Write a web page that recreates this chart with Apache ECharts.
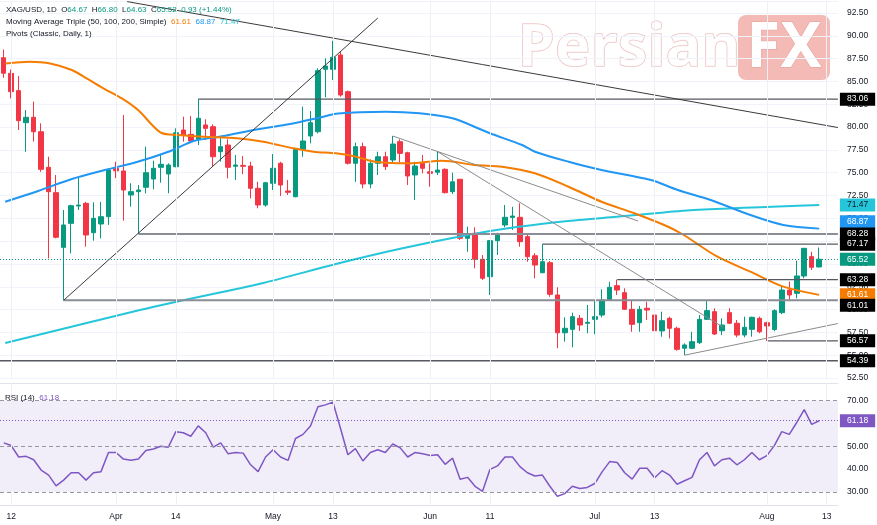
<!DOCTYPE html>
<html>
<head>
<meta charset="utf-8">
<title>XAG/USD 1D</title>
<script src="https://cdn.jsdelivr.net/npm/echarts@6/dist/echarts.min.js"></script>
<style>
  html, body { margin: 0; padding: 0; background: #fff; }
  #chart-container { width: 877px; height: 525px; }
</style>
</head>
<body>
<div id="chart-container"></div>
<script>
// trading days shown on the chart (Good Friday closed)
var dates = [
  '2026-03-11','2026-03-12','2026-03-13','2026-03-16','2026-03-17','2026-03-18','2026-03-19','2026-03-20','2026-03-23','2026-03-24','2026-03-25','2026-03-26','2026-03-27','2026-03-30','2026-03-31',
  '2026-04-01','2026-04-02','2026-04-06','2026-04-07','2026-04-08','2026-04-09','2026-04-10','2026-04-13','2026-04-14','2026-04-15','2026-04-16','2026-04-17','2026-04-20','2026-04-21','2026-04-22','2026-04-23','2026-04-24','2026-04-27','2026-04-28','2026-04-29','2026-04-30',
  '2026-05-01','2026-05-04','2026-05-05','2026-05-06','2026-05-07','2026-05-08','2026-05-11','2026-05-12','2026-05-13','2026-05-14','2026-05-15','2026-05-18','2026-05-19','2026-05-20','2026-05-21','2026-05-22','2026-05-25','2026-05-26','2026-05-27','2026-05-28','2026-05-29',
  '2026-06-01','2026-06-02','2026-06-03','2026-06-04','2026-06-05','2026-06-08','2026-06-09','2026-06-10','2026-06-11','2026-06-12','2026-06-15','2026-06-16','2026-06-17','2026-06-18','2026-06-19','2026-06-22','2026-06-23','2026-06-24','2026-06-25','2026-06-26','2026-06-29','2026-06-30',
  '2026-07-01','2026-07-02','2026-07-03','2026-07-06','2026-07-07','2026-07-08','2026-07-09','2026-07-10','2026-07-13','2026-07-14','2026-07-15','2026-07-16','2026-07-17','2026-07-20','2026-07-21','2026-07-22','2026-07-23','2026-07-24','2026-07-27','2026-07-28','2026-07-29','2026-07-30','2026-07-31',
  '2026-08-03','2026-08-04','2026-08-05','2026-08-06','2026-08-07','2026-08-10','2026-08-11','2026-08-12','2026-08-13','2026-08-14'
];

var tickDates = ['2026-03-12','2026-04-01','2026-04-14','2026-05-01','2026-05-13','2026-06-01','2026-06-11','2026-07-01','2026-07-13','2026-08-03','2026-08-13'];
var tickLabels = ['12','Apr','14','May','13','Jun','11','Jul','13','Aug','13'];

// [open, high, low, close]
var candles = [
  [87.60,88.50,85.40,85.90],[85.89,86.30,83.15,83.88],[83.99,85.60,79.68,80.70],[80.48,81.87,77.30,81.07],[81.07,82.78,78.40,79.49],
  [79.49,80.41,75.10,75.37],[75.59,76.75,65.62,72.92],[72.81,74.75,67.81,67.92],[66.82,70.91,61.01,69.27],[69.45,71.50,66.17,71.38],
  [71.35,74.56,70.91,71.45],[71.64,71.80,66.89,68.17],[68.42,71.75,67.55,70.00],[69.38,71.80,67.80,70.18],[70.18,75.48,69.27,75.29],
  [75.50,76.20,74.40,75.20],[75.19,81.32,69.74,73.10],[72.56,73.84,71.27,72.92],[72.92,73.65,68.28,73.10],[73.40,77.85,72.74,75.00],
  [74.31,76.31,73.18,75.48],[75.59,77.05,73.90,75.92],[74.86,76.03,72.74,75.84],[75.65,79.86,75.60,79.38],[79.68,81.14,78.40,79.13],
  [79.20,81.21,78.22,78.47],[78.66,83.06,78.03,80.96],[80.23,80.85,78.58,79.86],[80.04,80.30,75.66,76.75],[77.30,78.95,76.20,77.85],
  [78.03,78.66,74.38,75.59],[75.70,76.94,74.20,75.84],[75.80,76.83,74.86,75.70],[75.73,76.20,72.19,73.29],[73.29,74.00,71.10,71.46],
  [71.46,74.00,71.27,73.90],[73.84,77.05,73.10,75.48],[76.03,76.20,72.45,73.65],[73.00,74.20,72.56,72.85],[72.37,77.67,72.30,77.56],
  [77.56,82.23,76.75,78.47],[79.02,81.76,78.22,80.48],[79.49,86.44,79.30,86.18],[86.33,87.54,83.26,86.69],[86.33,89.46,85.16,87.65],
  [87.90,88.26,83.33,83.51],[83.88,84.00,75.90,76.03],[76.03,78.29,74.00,77.85],[77.85,78.29,73.29,73.76],[73.76,76.46,73.29,76.03],
  [76.03,77.30,74.75,76.75],[76.75,77.30,75.30,75.66],[76.39,79.02,76.10,78.14],[78.40,78.66,76.10,77.12],[77.19,77.30,73.65,74.64],
  [74.75,76.20,72.01,75.73],[76.03,76.94,74.93,75.48],[75.10,76.03,73.46,74.93],[75.05,77.30,74.75,75.29],[75.37,75.48,72.74,72.81],
  [72.92,75.00,72.66,74.00],[74.28,74.30,67.63,67.81],[67.81,69.08,66.34,68.25],[68.36,69.02,64.52,65.51],[65.51,65.98,63.24,63.43],
  [63.60,67.60,61.60,67.55],[67.55,68.42,65.98,68.17],[69.27,71.46,69.02,70.11],[70.10,71.27,68.72,70.25],[70.11,71.64,66.89,67.44],
  [67.99,68.36,65.24,65.79],[65.90,66.17,63.43,64.88],[64.04,67.17,63.98,65.24],[65.13,65.32,61.40,61.67],[61.60,62.44,55.76,57.46],
  [57.46,59.15,56.48,57.95],[57.83,59.66,55.86,59.22],[59.04,59.40,57.66,58.31],[58.50,60.50,57.40,58.60],[58.93,61.05,57.30,59.22],
  [59.40,62.22,59.15,61.05],[61.05,63.05,61.00,62.44],[62.62,63.28,61.60,62.14],[61.85,62.33,59.95,60.03],[60.03,61.05,57.57,58.38],
  [58.56,60.39,57.57,60.03],[60.14,60.86,58.86,59.95],[59.40,59.59,57.40,57.68],[57.66,59.77,57.03,58.78],[59.04,59.22,56.85,57.95],
  [57.95,58.12,55.49,55.64],[55.76,56.30,55.00,56.12],[55.76,57.57,55.65,56.48],[56.37,59.40,56.23,58.93],[58.93,61.05,58.86,59.88],
  [59.77,60.14,57.21,57.32],[57.68,59.04,57.21,58.31],[59.66,60.14,58.40,58.50],[58.50,58.86,56.96,57.21],[57.21,59.22,56.96,58.06],
  [57.83,59.22,57.03,59.15],[59.04,59.22,57.40,57.57],[58.56,58.67,56.57,58.20],[57.81,60.03,57.62,59.88],[59.66,62.69,59.50,62.14],
  [62.14,63.05,61.05,61.60],[61.78,65.36,61.23,63.68],[63.68,66.75,63.43,66.71],[65.80,66.34,64.34,64.63],[64.67,66.80,64.63,65.52]
];

// moving averages: [bar index, value]
var ma50 = [[0.2,86.97],[3.5,87.15],[6.2,86.97],[9.1,86.25],[11.2,85.27],[13.5,84.17],[15.9,83.08],[18.1,81.76],[19.7,80.34],[21.1,79.35],[23.2,79.13],[26.8,78.94],[31.2,78.77],[34.7,78.40],[38.7,77.67],[41.4,77.30],[44.4,77.12],[46.7,76.83],[49.7,76.20],[54.3,76.03],[58.6,76.31],[63.0,75.84],[66.6,75.66],[71.0,74.93],[75.5,73.46],[79.9,71.82],[84.3,70.55],[88.8,69.08],[90.9,68.17],[95.4,65.79],[99.8,64.15],[104.2,62.51],[109,61.61]];
var ma100 = [[0.2,71.82],[4.6,72.99],[9.1,74.31],[13.5,75.29],[17.9,76.20],[22.3,77.38],[25.4,78.47],[29.4,79.02],[33.8,79.73],[38.3,80.34],[42.3,81.05],[44.7,81.49],[51.1,81.68],[55.6,81.51],[60.0,80.96],[64.9,79.35],[69.3,78.03],[71.0,77.30],[75.5,76.20],[79.9,75.29],[86.5,74.20],[90.1,73.10],[94.5,72.01],[99.8,70.36],[104.2,69.27],[109,68.87]];
var ma200 = [[0.2,56.34],[18.2,59.95],[23.1,60.86],[34.7,62.92],[44.4,64.99],[53.3,66.71],[62.0,68.17],[68.3,69.02],[75.8,69.74],[84.6,70.36],[92.2,70.91],[109,71.47]];

var rsi = [
  51.5,50.3,45.3,45.6,44.1,39.6,37.4,32.7,35.2,38.4,38.4,35.2,38.4,38.9,47.3,47.3,44.4,43.9,44.4,48.1,
  48.8,50.0,49.6,56.4,55.9,54.4,58.9,55.9,49.6,51.5,46.7,47.3,47.0,41.9,38.9,45.3,48.5,45.3,43.8,53.4,
  55.2,58.9,67.3,68.1,69.3,58.0,46.3,49.0,43.6,47.3,48.5,47.3,51.0,49.3,45.3,47.3,46.7,46.0,46.3,42.1,
  44.8,35.6,36.4,32.5,30.3,39.9,41.4,45.3,45.3,41.1,38.4,37.0,37.4,32.5,28.1,29.3,32.5,31.5,32.0,33.7,
  38.9,43.3,42.9,38.4,35.6,40.4,40.4,36.2,39.3,37.4,33.4,34.9,36.4,44.1,47.3,41.4,44.1,44.8,41.9,44.1,
  47.3,44.1,45.9,50.3,56.4,55.2,60.4,66.0,59.6,61.18
];

// drawn horizontal levels: price and bar where the level starts
var levelPrices = [83.06, 68.28, 67.17, 63.28, 61.01, 56.57, 54.39];
var levelStarts = [26, 18, 72, 82, 8, 102, -0.5];

// drawn trend lines: [[bar, price], [bar, price]]
var trendLines = [
  [[16.5, 93.75], [111.5, 79.95]],
  [[8, 61.01], [50, 91.95]],
  [[52, 79.02], [84.8, 69.70]],
  [[58, 77.30], [96.1, 58.09]],
  [[91, 55.00], [111.5, 58.47]]
];

var FONT = '"Liberation Sans", Arial, sans-serif';
var UP = '#089981', DOWN = '#f23645';
var C50 = '#f57c00', C100 = '#2196f3', C200 = '#26c6da', CRSI = '#7e57c2';
var TXT = '#131722';

var last = candles[candles.length - 1];
var lastClose = last[3];
var lastRsi = rsi[rsi.length - 1];
var candleData = candles.map(function (c) { return [c[0], c[3], c[2], c[1]]; });
var tickMap = {};
tickDates.forEach(function (d, i) { tickMap[d] = tickLabels[i]; });

function tag(value, bg, fg, dy) {
  return {
    yAxis: value,
    lineStyle: { color: 'rgba(0,0,0,0)' },
    label: {
      show: true, position: 'end', distance: 2, formatter: value.toFixed(2),
      backgroundColor: bg, color: fg, padding: [2, 7, 2, 7], offset: [0, dy || 0],
      fontSize: 8.5, fontFamily: FONT
    }
  };
}

var vLines = tickDates.map(function (d) {
  return { xAxis: d, lineStyle: { color: '#eef0f5', width: 1, type: 'solid' }, label: { show: false } };
});

var dom = document.getElementById('chart-container');
var myChart = echarts.init(dom, null, { renderer: 'canvas' });

var series = [
  {
    name: 'XAG/USD', type: 'candlestick', xAxisIndex: 0, yAxisIndex: 0,
    data: candleData, barWidth: 5,
    itemStyle: { color: UP, color0: DOWN, borderColor: UP, borderColor0: DOWN, borderWidth: 1 },
    markLine: {
      silent: true, symbol: ['none', 'none'], animation: false,
      label: { show: false },
      data: vLines.concat([
        {
          yAxis: lastClose, lineStyle: { color: UP, type: [1, 2], width: 1 },
          label: { show: true, position: 'end', distance: 2, formatter: lastClose.toFixed(2), backgroundColor: UP, color: '#fff', padding: [2, 7, 2, 7], fontSize: 8.5, fontFamily: FONT }
        },
        tag(levelPrices[0], '#000', '#fff'),
        tag(ma200[ma200.length - 1][1], C200, TXT),
        tag(ma100[ma100.length - 1][1], C100, '#fff', -7),
        tag(levelPrices[1], '#000', '#fff'),
        tag(levelPrices[2], '#000', '#fff'),
        tag(levelPrices[3], '#000', '#fff'),
        tag(ma50[ma50.length - 1][1], C50, '#fff'),
        tag(levelPrices[4], '#000', '#fff', 5),
        tag(levelPrices[5], '#000', '#fff'),
        tag(levelPrices[6], '#000', '#fff')
      ])
    }
  },
  { name: 'MA 200', type: 'line', xAxisIndex: 1, yAxisIndex: 0, data: ma200, smooth: 0.3, symbol: 'none', lineStyle: { color: C200, width: 2 }, z: 3 },
  { name: 'MA 100', type: 'line', xAxisIndex: 1, yAxisIndex: 0, data: ma100, smooth: 0.3, symbol: 'none', lineStyle: { color: C100, width: 2 }, z: 3 },
  { name: 'MA 50', type: 'line', xAxisIndex: 1, yAxisIndex: 0, data: ma50, smooth: 0.3, symbol: 'none', lineStyle: { color: C50, width: 2 }, z: 3 }
];

levelPrices.forEach(function (p, k) {
  series.push({
    type: 'line', xAxisIndex: 1, yAxisIndex: 0, silent: true,
    data: [[levelStarts[k], p], [111.5, p]], symbol: 'none',
    lineStyle: { color: (k === 1 || k === 4) ? '#8a8d96' : '#55585f', width: (k === 1 || k === 4) ? 2 : 1.4 }, z: 4
  });
});

trendLines.forEach(function (seg, k) {
  series.push({
    type: 'line', xAxisIndex: 1, yAxisIndex: 0, silent: true,
    data: seg, symbol: 'none',
    lineStyle: { color: k < 2 ? '#3a3a3a' : '#8c8c8c', width: 1 }, z: 4
  });
});

series.push({
  name: 'RSI', type: 'line', xAxisIndex: 2, yAxisIndex: 1,
  data: rsi, symbol: 'none', lineStyle: { color: CRSI, width: 1.5 },
  markArea: { silent: true, itemStyle: { color: 'rgba(126,87,194,0.1)' }, data: [[{ yAxis: 30 }, { yAxis: 70 }]] },
  markLine: {
    silent: true, symbol: ['none', 'none'], animation: false, label: { show: false },
    data: vLines.concat([
      { yAxis: 70, lineStyle: { color: '#9598a1', type: [4, 3], width: 1 } },
      { yAxis: 50, lineStyle: { color: '#9598a1', type: [4, 3], width: 1 } },
      { yAxis: 30, lineStyle: { color: '#9598a1', type: [4, 3], width: 1 } },
      {
        yAxis: lastRsi, lineStyle: { color: CRSI, type: [1, 2], width: 1 },
        label: { show: true, position: 'end', distance: 2, formatter: lastRsi.toFixed(2), backgroundColor: CRSI, color: '#fff', padding: [2, 7, 2, 7], fontSize: 8.5, fontFamily: FONT }
      }
    ])
  }
});

function tok(color) {
  return { color: color, fontSize: 8, fontWeight: 'normal', fontFamily: FONT, lineHeight: 10 };
}
var rich = { d: tok(TXT), g: tok(UP), o: tok(C50), b: tok(C100), c: tok(C200), p: tok(CRSI) };
var titleStyle = { fontSize: 8, fontWeight: 'normal', lineHeight: 10, fontFamily: FONT, color: TXT, rich: rich };

var option = {
  animation: false,
  backgroundColor: '#ffffff',
  title: [
    { left: 6, top: 5, padding: 0, textStyle: titleStyle,
      text: '{d|XAG/USD, 1D  O}{g|' + last[0].toFixed(2) + '}{d|  H}{g|' + last[1].toFixed(2) + '}{d|  L}{g|' + last[2].toFixed(2) + '}{d|  C}{g|' + lastClose.toFixed(2) + '  0.93 (+1.44%)}' },
    { left: 6, top: 17, padding: 0, textStyle: titleStyle,
      text: '{d|Moving Average Triple (50, 100, 200, Simple)}  {o|' + ma50[ma50.length - 1][1].toFixed(2) + '}  {b|' + ma100[ma100.length - 1][1].toFixed(2) + '}  {c|' + ma200[ma200.length - 1][1].toFixed(2) + '}' },
    { left: 6, top: 29, padding: 0, textStyle: titleStyle, text: '{d|Pivots (Classic, Daily, 1)}' },
    { left: 5, top: 393, padding: 0, textStyle: titleStyle, text: '{d|RSI (14)}  {p|' + lastRsi.toFixed(2) + '}' }
  ],
  graphic: [
    { type: 'text', x: 629, y: 49, z: 0, silent: true, style: { text: 'Persian', align: 'center', verticalAlign: 'middle', font: 'bold 60px "Noto Sans"', fill: 'rgba(255,255,255,0.75)', stroke: '#e6b3b3', lineWidth: 1 } },
    { type: 'rect', z: 0, silent: true, shape: { x: 738, y: 15, width: 92, height: 65, r: 8 }, style: { fill: 'rgba(232,118,110,0.5)' } },
    { type: 'text', x: 784, y: 49, z: 0, silent: true, style: { text: 'FX', align: 'center', verticalAlign: 'middle', font: 'bold 62px "Noto Sans"', fill: '#ffffff', stroke: '#e79d97', lineWidth: 1 } }
  ],
  grid: [
    { left: -5.3, right: 39.1, top: 1.6, height: 376.4 },
    { left: -5.3, right: 39.1, top: 383.4, height: 122.3 }
  ],
  xAxis: [
    { type: 'category', gridIndex: 0, data: dates, axisLine: { show: false }, axisTick: { show: false }, axisLabel: { show: false }, splitLine: { show: false } },
    { type: 'value', gridIndex: 0, min: -0.5, max: 111.5, show: false },
    {
      type: 'category', gridIndex: 1, data: dates,
      axisLine: { show: true, lineStyle: { color: '#e0e3eb' } }, axisTick: { show: false },
      axisLabel: {
        color: TXT, fontSize: 8.5, fontFamily: FONT, margin: 6,
        interval: function (i, v) { return tickMap[v] !== undefined; },
        formatter: function (v) { return tickMap[v] || ''; }
      },
      splitLine: { show: false }
    },
    { type: 'category', gridIndex: 1, data: dates, position: 'top', axisLine: { show: true, lineStyle: { color: '#e0e3eb' } }, axisTick: { show: false }, axisLabel: { show: false } }
  ],
  yAxis: [
    {
      type: 'value', gridIndex: 0, position: 'right', min: 52.5, max: 93.75, interval: 2.5,
      axisLine: { show: false }, axisTick: { show: false },
      axisLabel: { color: TXT, fontSize: 8.5, fontFamily: FONT, margin: 9, showMaxLabel: false, formatter: function (v) { return v.toFixed(2); } },
      splitLine: { lineStyle: { color: '#f0f3fa' } }
    },
    {
      type: 'value', gridIndex: 1, position: 'right', min: 24, max: 77.5, splitNumber: 5,
      axisLine: { show: false }, axisTick: { show: false },
      axisLabel: { color: TXT, fontSize: 8.5, fontFamily: FONT, margin: 9, showMinLabel: false, showMaxLabel: false, formatter: function (v) { return v.toFixed(2); } },
      splitLine: { show: false }
    }
  ],
  series: series
};

if (option && typeof option === 'object') {
  myChart.setOption(option);
}

window.addEventListener('resize', myChart.resize);
</script>
</body>
</html>
